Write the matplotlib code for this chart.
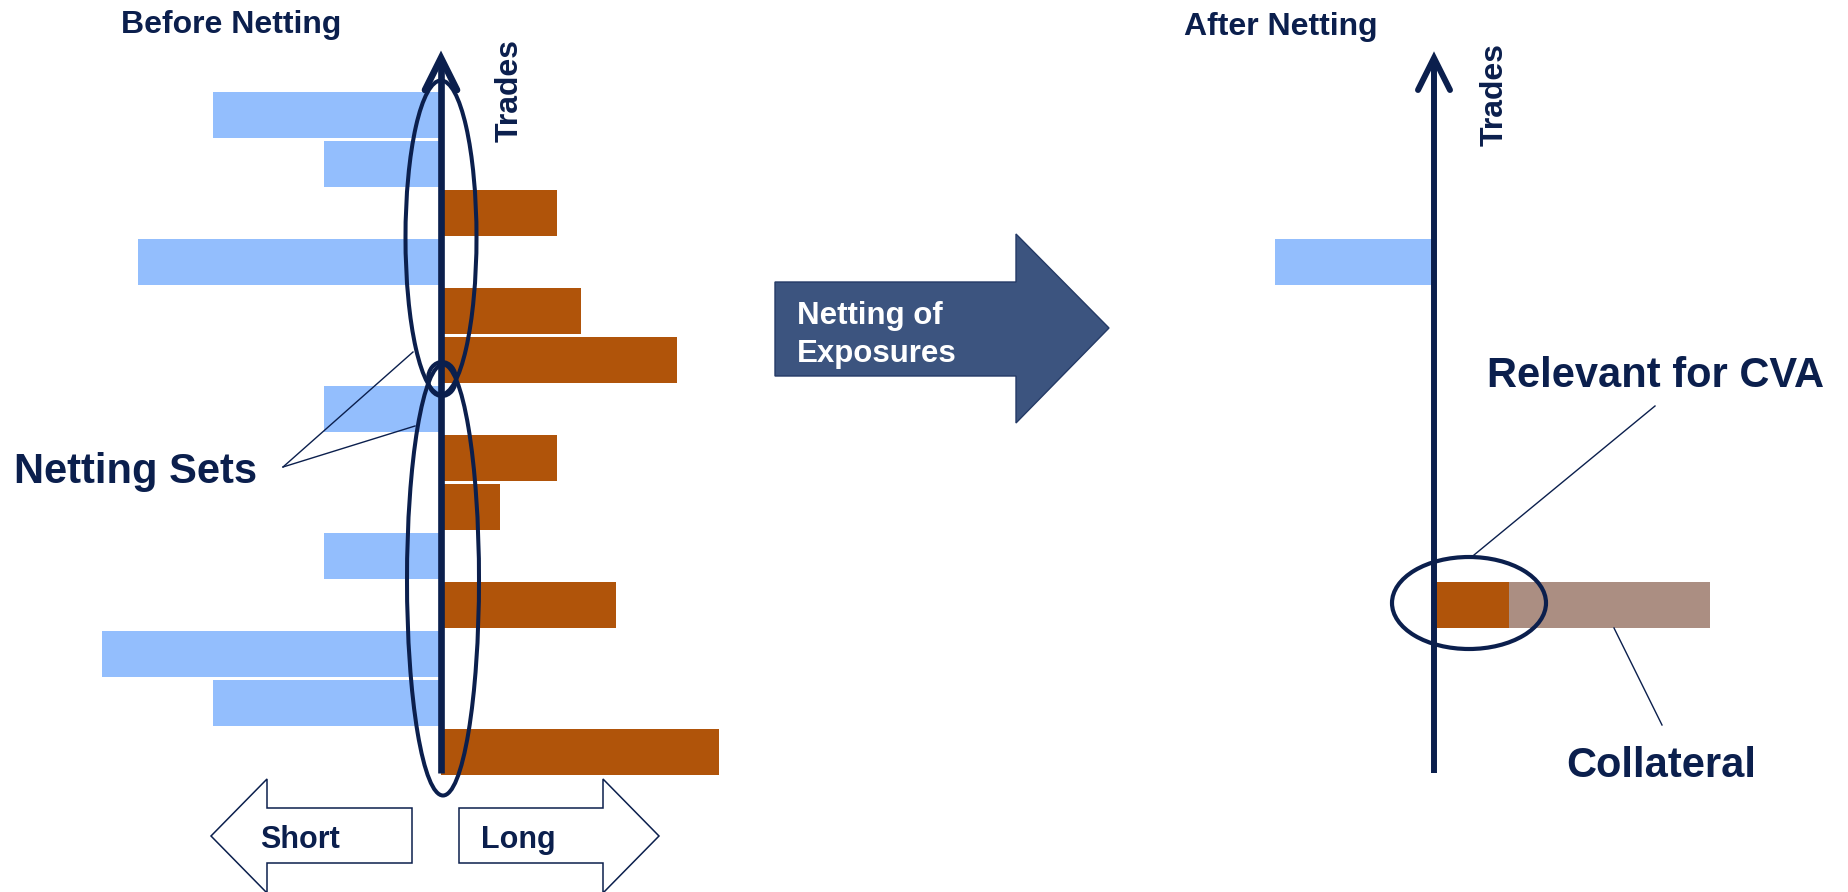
import matplotlib
matplotlib.use('Agg')
import matplotlib.pyplot as plt
from matplotlib.patches import Ellipse, Polygon
import numpy as np

# Exposures per trade before netting (negative = short, positive = long)
trades_before = [-3.8, -1.95, 1.93, -5.05, 2.33, 3.93, -1.95, 1.93, 0.99, -1.95, 2.92, -5.65, -3.8, 4.63]

# After netting: one net short, one net long partly covered by collateral
short_rows = [3]
net_short = [-2.65]
long_rows = [10]
net_long = [1.25]
collateral = [3.35]

NAVY = '#0b1f4d'
BLUE = '#93befd'
ORANGE = '#b0540a'
TAN = '#ab8e82'
ARROW = '#3c547f'

plt.rcParams['font.family'] = ['Liberation Sans', 'DejaVu Sans']

W, H = 1848, 892
fig = plt.figure(figsize=(W / 100, H / 100), dpi=100)

# scale shared by both panels: 60 px per unit of exposure, 49 px per trade row
UNIT = 60.0
ROW = 49.0
ROW0 = 115.0
ylim = ((H - ROW0) / ROW, -ROW0 / ROW)


def panel(zero_px):
    ax = fig.add_axes([0, 0, 1, 1])
    ax.set_xlim(-zero_px / UNIT, (W - zero_px) / UNIT)
    ax.set_ylim(*ylim)
    ax.axis('off')
    ax.patch.set_alpha(0)
    return ax


# left panel: before netting
axl = panel(441)
rows = np.arange(len(trades_before))
colors = [BLUE if v < 0 else ORANGE for v in trades_before]
axl.barh(rows, trades_before, height=46 / ROW, color=colors)

# right panel: after netting
axr = panel(1434)
axr.barh(short_rows, net_short, height=46 / ROW, color=BLUE)
axr.barh(long_rows, net_long, height=46 / ROW, color=ORANGE)
axr.barh(long_rows, collateral, left=net_long, height=46 / ROW, color=TAN)

# overlay in pixel coordinates for arrows, circles and labels
ov = fig.add_axes([0, 0, 1, 1])
ov.set_xlim(0, W)
ov.set_ylim(H, 0)
ov.axis('off')
ov.patch.set_alpha(0)


def trade_axis(x, lw):
    ov.plot([x, x], [773, 60], color=NAVY, lw=lw, solid_capstyle='butt')
    ov.plot([x - 16, x, x + 16], [90, 58, 90], color=NAVY, lw=lw,
            solid_capstyle='round', solid_joinstyle='miter')


trade_axis(441, 4.8)
trade_axis(1434, 4.3)

# netting set ellipses
for cx, cy, w, h in [(441, 237.5, 71, 314), (442, 379, 28, 34), (443, 580, 72, 431)]:
    ov.add_patch(Ellipse((cx, cy), w, h, fill=False, ec=NAVY, lw=2.9))
ov.add_patch(Ellipse((1469, 603), 154, 92, fill=False, ec=NAVY, lw=3.0))

# leader lines
ov.plot([283, 413], [467, 352], color=NAVY, lw=1.0)
ov.plot([283, 415], [467, 426], color=NAVY, lw=1.0)
ov.plot([1655, 1474], [406, 555], color=NAVY, lw=1.0)
ov.plot([1614, 1662], [628, 725], color=NAVY, lw=1.0)

# big "netting" arrow
ov.add_patch(Polygon([(775, 282), (1016, 282), (1016, 234), (1109, 328),
                      (1016, 423), (1016, 376), (775, 376)],
                     closed=True, fc=ARROW, ec='#243a66', lw=1.0))
ov.text(797, 324, 'Netting of', color='white', fontsize=22.5, fontweight='bold', va='baseline')
ov.text(797, 362, 'Exposures', color='white', fontsize=22.5, fontweight='bold', va='baseline')

# short / long arrows
ov.add_patch(Polygon([(412, 808), (267, 808), (267, 779), (211, 836), (267, 893),
                      (267, 863), (412, 863)], closed=True, fc='white', ec=NAVY, lw=1.1))
ov.add_patch(Polygon([(459, 808), (603, 808), (603, 779), (659, 836), (603, 893),
                      (603, 863), (459, 863)], closed=True, fc='white', ec=NAVY, lw=1.1))
ov.text(300, 848, 'Short', color=NAVY, fontsize=22, fontweight='bold', ha='center', va='baseline')
ov.text(518, 848, 'Long', color=NAVY, fontsize=22, fontweight='bold', ha='center', va='baseline')

# labels
ov.text(121, 33, 'Before Netting', color=NAVY, fontsize=23, fontweight='bold', va='baseline')
ov.text(1184, 35, 'After Netting', color=NAVY, fontsize=23, fontweight='bold', va='baseline')
ov.text(510, 91, 'Trades', color=NAVY, fontsize=23, fontweight='bold', rotation=90, ha='center', va='center')
ov.text(1495, 94, 'Trades', color=NAVY, fontsize=23, fontweight='bold', rotation=90, ha='center', va='center')
ov.text(14, 483, 'Netting Sets', color=NAVY, fontsize=30, fontweight='bold', va='baseline')
ov.text(1487, 387, 'Relevant for CVA', color=NAVY, fontsize=30, fontweight='bold', va='baseline')
ov.text(1566, 777, 'Collateral', color=NAVY, fontsize=30, fontweight='bold', va='baseline')

fig.savefig('out.png', dpi=100, facecolor='white')
